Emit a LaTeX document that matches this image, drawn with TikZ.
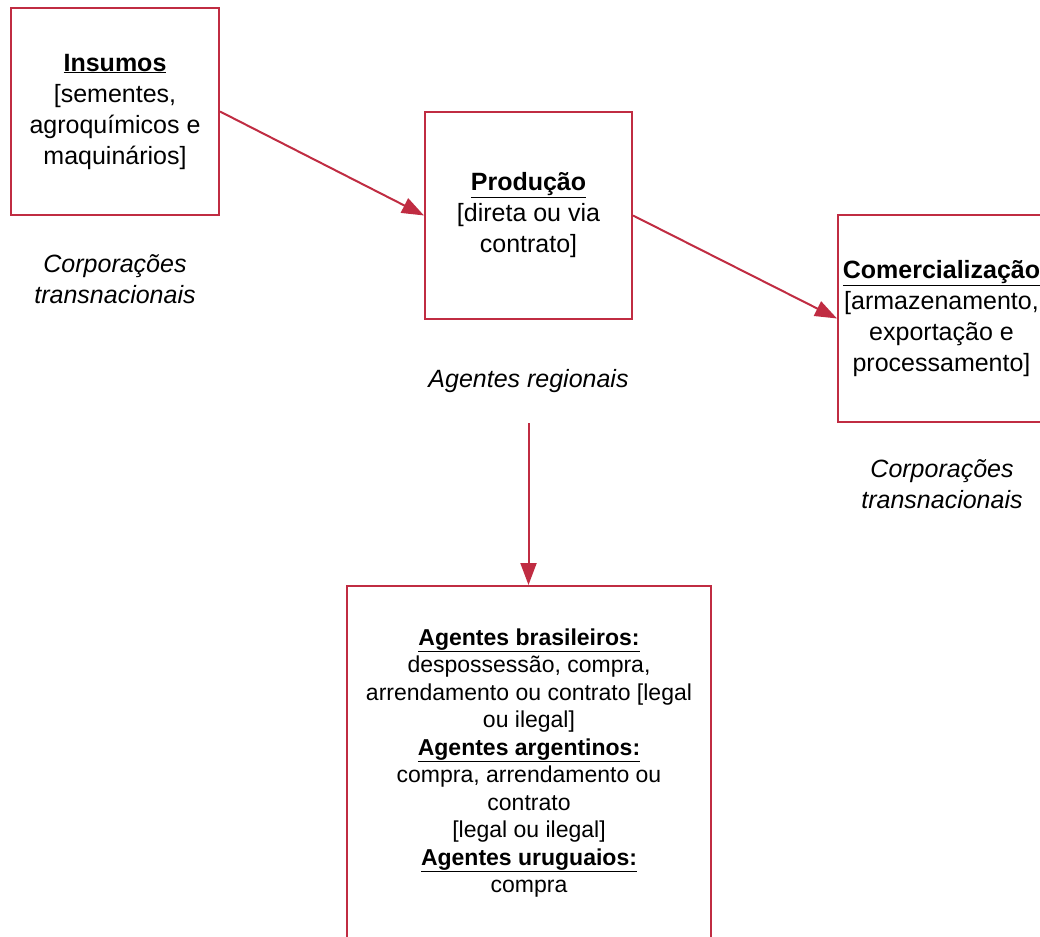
\documentclass[tikz,border=0pt]{standalone}
\usepackage{fontspec}
\setmainfont{Liberation Sans}
\usetikzlibrary{arrows.meta}
\definecolor{chainred}{RGB}{192,44,66}
\tikzset{
  stage/.style={draw=chainred, line width=2pt, rectangle, inner sep=0pt,
    minimum width=207pt, minimum height=207pt, align=center,
    font=\fontsize{25}{31}\selectfont},
  agents/.style={align=center, font=\fontsize{25}{31}\selectfont\itshape},
  flow/.style={draw=chainred, line width=2pt,
    -{Triangle[length=22pt,width=16pt]}}
}
\newcommand{\hd}[1]{\underline{\textbf{#1}}}
\begin{document}
\begin{tikzpicture}[x=1pt,y=-1pt]
  \useasboundingbox (0,0) rectangle (1040,936);

  % chain stages
  \node[stage, minimum width=208pt] (ins) at (115,111.5)
    {\hd{Insumos}\\{[}sementes,\\agroquímicos e\\maquinários]};
  \node[stage] (prod) at (528.5,215.5)
    {\hd{Produção}\\{[}direta ou via\\contrato]};
  \node[stage] (com) at (941.5,318.5)
    {\hd{Comercialização}\\{[}armazenamento,\\exportação e\\processamento]};

  % who controls each stage
  \node[agents] (insag) at (115,279) {Corporações\\transnacionais};
  \node[agents] (prodag) at (528.5,381) {Agentes regionais};
  \node[agents] (comag) at (942,484) {Corporações\\transnacionais};

  % land access by nationality
  \node[stage, minimum width=364pt, minimum height=354pt,
        font=\fontsize{23}{27.5}\selectfont] (land) at (529,763)
    {\hd{Agentes brasileiros:}\\despossessão, compra,\\arrendamento ou contrato {[}legal\\ou ilegal]\\
     \hd{Agentes argentinos:}\\compra, arrendamento ou\\contrato\\{[}legal ou ilegal]\\
     \hd{Agentes uruguaios:}\\compra};

  % connectors
  \draw[flow] (ins.east) -- (prod.west);
  \draw[flow] (prod.east) -- (com.west);
  \coordinate (down) at (528.5,423);
  \draw[flow] (down) -- (down |- land.north);
\end{tikzpicture}
\end{document}
